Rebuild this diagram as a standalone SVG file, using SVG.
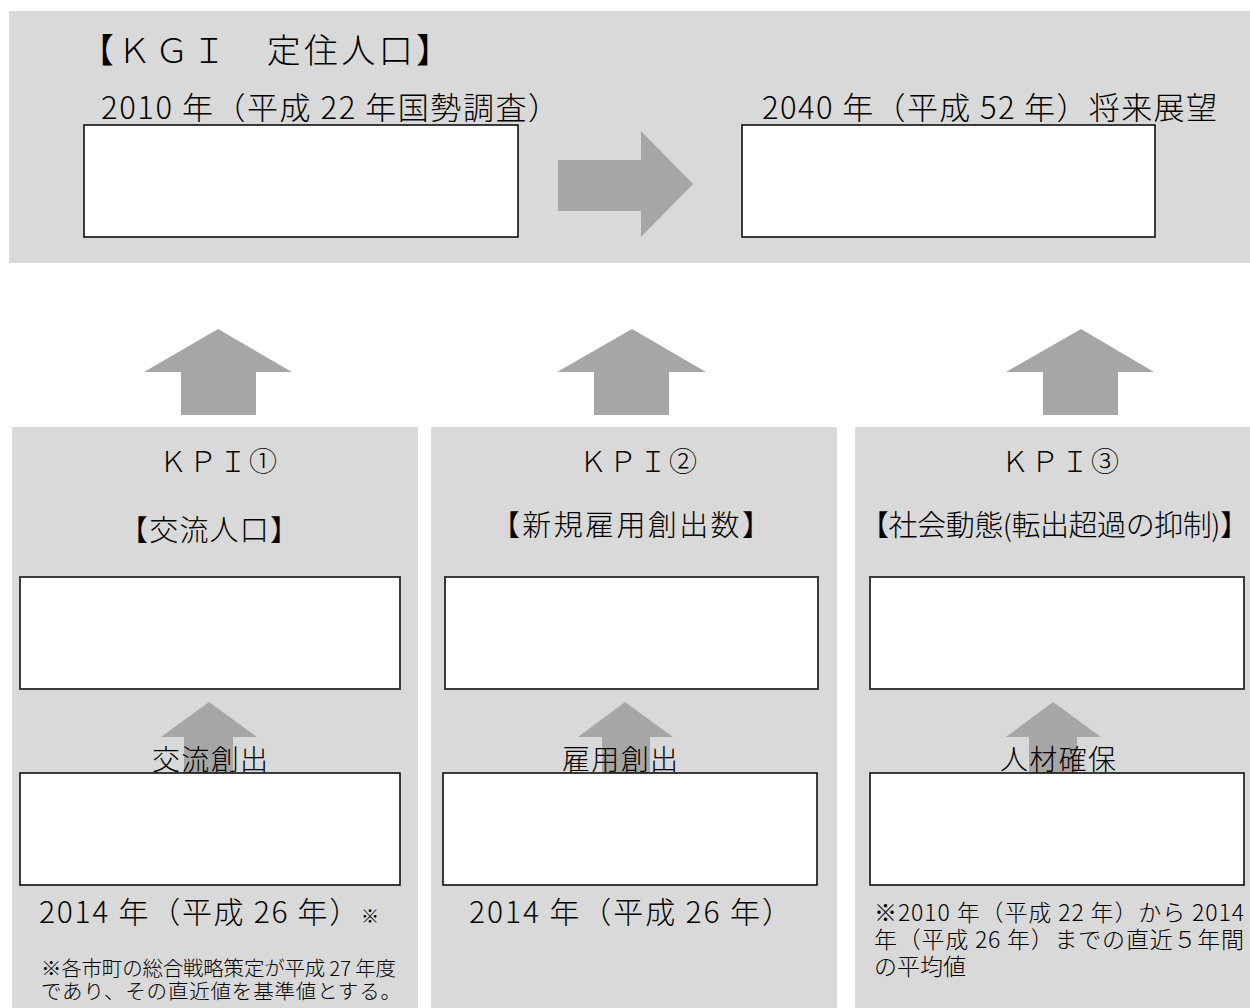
<svg xmlns="http://www.w3.org/2000/svg" width="1250" height="1008" viewBox="0 0 1250 1008">
<style>
.panel{fill:#d9d9d9}
.box{fill:#ffffff;stroke:#000000;stroke-width:1.5}
.box2{fill:#ffffff;stroke:#3a3a3a;stroke-width:2}
.arrow{fill:#a6a6a6}
text{font-family:"Noto Sans CJK JP","Noto Sans",sans-serif;fill:#000000;font-weight:300}
.t34{font-size:34px}
.t31{font-size:31px}
.t29{font-size:29px}
.t28{font-size:28px}
.t30{font-size:30px}
.n20{font-size:20.5px}
.n23{font-size:23px}
</style>
<rect width="1250" height="1008" fill="#ffffff"/>
<g id="kgi-panel">
<rect class="panel" x="9" y="11" width="1241" height="252"/>
<text class="t34" x="80" y="63" textLength="370">【ＫＧＩ　定住人口】</text>
</g>
<g id="kgi-2010">
<text class="t31" x="101" y="119" textLength="458">2010 年（平成 22 年国勢調査）</text>
<rect class="box" x="84" y="125" width="434" height="112"/>
</g>
<g id="kgi-2040">
<text class="t31" x="762" y="119" textLength="455">2040 年（平成 52 年）将来展望</text>
<rect class="box" x="742" y="125" width="413" height="112"/>
</g>
<g id="kpi1">
<rect class="panel" x="12" y="427" width="406" height="581"/>
<text class="t28" x="218" y="472" text-anchor="middle" textLength="118">ＫＰＩ①</text>
<text class="t29" x="209" y="541" text-anchor="middle" textLength="180">【交流人口】</text>
</g>
<g id="kpi2">
<rect class="panel" x="431" y="427" width="406" height="581"/>
<text class="t28" x="638" y="472" text-anchor="middle" textLength="118">ＫＰＩ②</text>
<text class="t29" x="631" y="536" text-anchor="middle" textLength="280">【新規雇用創出数】</text>
</g>
<g id="kpi3">
<rect class="panel" x="855" y="427" width="395" height="581"/>
<text class="t28" x="1060" y="472" text-anchor="middle" textLength="118">ＫＰＩ③</text>
<text class="t29" x="860" y="536" textLength="389">【社会動態(転出超過の抑制)】</text>
</g>
<g id="connectors">
<polygon class="arrow" points="558,160 641,160 641,131 693,184 641,237 641,211 558,211"/>
<polygon class="arrow" points="181,415 181,372 144,372 218,329 292,372 256,372 256,415"/>
<polygon class="arrow" points="594,415 594,372 557,372 632,329 706,372 669,372 669,415"/>
<polygon class="arrow" points="1043,415 1043,372 1006,372 1081,329 1154,372 1118,372 1118,415"/>
<polygon class="arrow" points="184,773 184,737 161,737 209,702 257,737 233,737 233,773"/>
<polygon class="arrow" points="602,773 602,737 578,737 625,702 673,737 650,737 650,773"/>
<polygon class="arrow" points="1029,773 1029,737 1006,737 1053,702 1101,737 1077,737 1077,773"/>
</g>
<g id="kpi1-boxes">
<rect class="box2" x="20" y="577" width="380" height="112"/>
<text class="t28" x="210" y="770" text-anchor="middle" textLength="116">交流創出</text>
<rect class="box" x="20" y="773" width="380" height="112"/>
<text class="t30" x="39" y="923" textLength="340">2014 年（平成 26 年）<tspan style="font-size:18px">※</tspan></text>
<text class="n20"><tspan x="41" y="976" textLength="355">※各市町の総合戦略策定が平成 27 年度</tspan><tspan x="41" y="999" textLength="360">であり、その直近値を基準値とする。</tspan></text>
</g>
<g id="kpi2-boxes">
<rect class="box2" x="445" y="577" width="373" height="112"/>
<text class="t28" x="620" y="770" text-anchor="middle" textLength="116">雇用創出</text>
<rect class="box" x="443" y="773" width="374" height="112"/>
<text class="t30" x="469" y="923" textLength="323">2014 年（平成 26 年）</text>
</g>
<g id="kpi3-boxes">
<rect class="box2" x="870" y="577" width="374" height="112"/>
<text class="t28" x="1058" y="770" text-anchor="middle" textLength="116">人材確保</text>
<rect class="box" x="870" y="773" width="374" height="112"/>
<text class="n23"><tspan x="874" y="921" textLength="370">※2010 年（平成 22 年）から 2014</tspan><tspan x="874" y="948" textLength="370">年（平成 26 年）までの直近５年間</tspan><tspan x="874" y="975">の平均値</tspan></text>
</g>
</svg>
